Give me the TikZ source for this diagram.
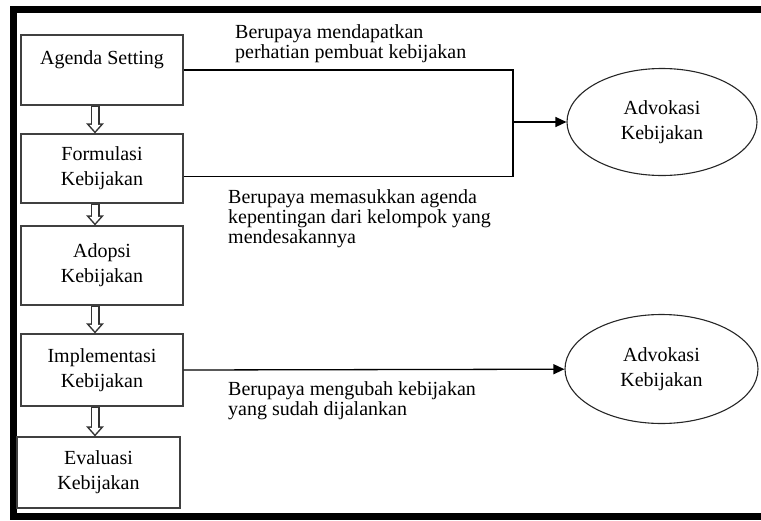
\documentclass[tikz,border=0pt]{standalone}
\usepackage{fontspec}
\setmainfont{Liberation Serif}
\usetikzlibrary{arrows.meta, positioning, shapes.geometric}

\begin{document}
\begin{tikzpicture}[
      x=1pt, y=-1pt,
      block/.style={rectangle, draw=black!75, line width=1.1pt, minimum width=162pt, inner sep=0pt, align=center, font=\fontsize{20}{25}\selectfont},
      advokasi/.style={ellipse, draw=black!85, line width=1.1pt, minimum width=190pt, minimum height=107pt, inner sep=0pt, align=center, font=\fontsize{20}{25}\selectfont},
      note/.style={anchor=north west, inner sep=0pt, align=left, font=\fontsize{20}{20}\selectfont},
      arrow/.style={-{Triangle[length=11pt, width=10pt]}, line width=1.3pt},
      flow/.style={draw=white, line width=6pt, shorten <=1pt, shorten >=2.3pt, -{Triangle[length=6.2pt, width=10.6pt]},
        preaction={draw=black!80, line width=9pt, shorten <=0pt, shorten >=0pt, -{Triangle[length=10pt, width=17pt]}}},
      link/.style={line width=1.1pt}
  ]
      \useasboundingbox (0,0) rectangle (761,520);

      % Frame
      \fill (10,6) rectangle (761,13);
      \fill (10,6) rectangle (17,520);
      \fill (10,513) rectangle (761,520);

      % Stages
      \node[block, minimum height=70pt] (agenda) at (102,70) {Agenda Setting\\~};
      \node[block, minimum height=69pt] (formulasi) at (102,168.5) {Formulasi\\Kebijakan};
      \node[block, minimum height=79pt] (adopsi) at (102,265.5) {Adopsi\\Kebijakan};
      \node[block, minimum height=72pt] (implementasi) at (102,370) {Implementasi\\Kebijakan};
      \node[block, minimum height=71pt, minimum width=163pt] (evaluasi) at (98.5,472.5) {Evaluasi\\Kebijakan};

      % Advocacy
      \node[advokasi] (adv1) at (662,122) {Advokasi\\Kebijakan};
      \node[advokasi, minimum width=193pt, minimum height=109pt] (adv2) at (661.5,369) {Advokasi\\Kebijakan};

      % Notes
      \node[note] (note1) at (235,24) {Berupaya mendapatkan\\perhatian pembuat kebijakan};
      \node[note] (note2) at (228,189) {Berupaya memasukkan agenda\\kepentingan dari kelompok yang\\mendesakannya};
      \node[note] (note3) at (228,381) {Berupaya mengubah kebijakan\\yang sudah dijalankan};

      % Flow
      \draw[flow] ([xshift=-7pt]agenda.south) -- ([xshift=-7pt]agenda.south |- formulasi.north);
      \draw[flow] ([xshift=-7pt]formulasi.south) -- ([xshift=-7pt]formulasi.south |- adopsi.north);
      \draw[flow] ([xshift=-7pt]adopsi.south) -- ([xshift=-7pt]adopsi.south |- implementasi.north);
      \draw[flow] ([xshift=-7pt]implementasi.south) -- ([xshift=-7pt]implementasi.south |- evaluasi.north);

      % Arrows
      \coordinate (join) at (513,122);
      \draw[link] (agenda.east) -| (join);
      \draw[link] ([yshift=-8pt]formulasi.east) -| (join);
      \draw[arrow] (join) -- (adv1);
      \draw[arrow] (implementasi.east) -- (adv2);
  \end{tikzpicture}
\end{document}
